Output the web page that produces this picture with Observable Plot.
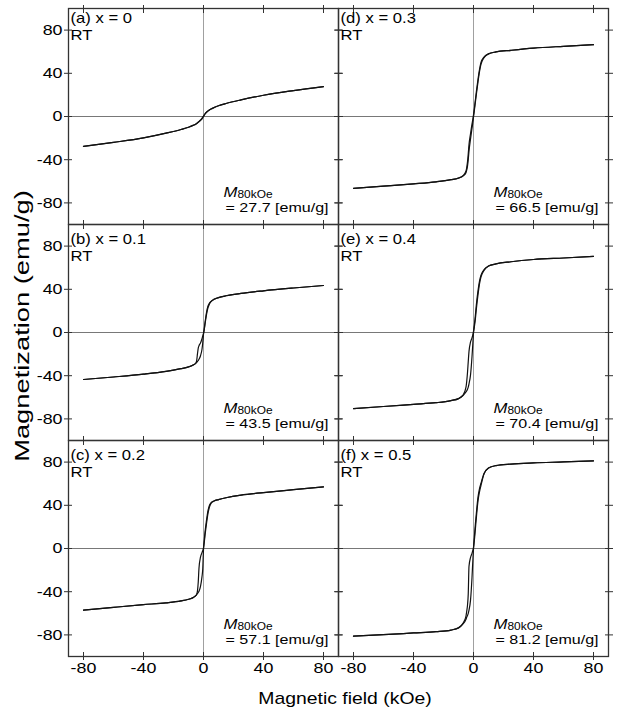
<!DOCTYPE html>
<html>
<head>
<meta charset="utf-8">
<script src="https://cdn.jsdelivr.net/npm/d3@7"></script>
<script src="https://cdn.jsdelivr.net/npm/@observablehq/plot@0.6"></script>
<style>
  html, body { margin: 0; padding: 0; background: #fff; }
  #wrap { position: relative; width: 619px; height: 715px; font-family: "Liberation Sans", Arial, Helvetica, sans-serif; color: #000; }
  #wrap svg { display: block; }
  .title { position: absolute; white-space: nowrap; line-height: 1; font-weight: normal; }
  #xtitle { left: 345px; top: 690px; font-size: 17px; transform: translateX(-50%) scaleX(1.14); }
  #ytitle { left: 21px; top: 326px; font-size: 21px; transform: translate(-50%, -50%) rotate(-90deg) scaleX(1.3); }
</style>
</head>
<body>
<div id="wrap"></div>
<script>
// ---- data ----
const field = [-80, -60, -40, -25, -15, -10, -7, -5, -4.5, -4, -3.5, -3, -2, -1, -0.5, 0, 0.5, 1, 2, 3, 4, 5, 7, 10, 15, 25, 40, 60, 80];

const aDown = [-27.7, -24.0, -19.8, -15.4, -12.0, -9.9, -8.2, -6.9, -6.5, -6.0, -5.4, -4.8, -3.6, -2.1, -1.1, 0.0, 1.2, 2.3, 3.9, 5.1, 6.1, 6.9, 8.2, 9.9, 12.0, 15.4, 19.7, 24.0, 27.7];
const aUp   = [-27.7, -24.0, -19.8, -15.4, -12.0, -9.9, -8.2, -6.9, -6.2, -5.7, -5.1, -4.5, -3.2, -1.7, -0.6, 0.4, 1.5, 2.5, 4.1, 5.2, 6.2, 7.0, 8.3, 9.9, 12.0, 15.4, 19.7, 24.0, 27.7];

const bDown = [-43.5, -41.2, -38.6, -36.0, -33.5, -31.8, -30.2, -28.0, -25.5, -19.5, -14.5, -12.2, -9.8, -5.8, -3.2, -0.8, 3.5, 9.0, 18.5, 24.5, 27.3, 28.8, 30.7, 32.3, 34.0, 36.2, 38.6, 41.2, 43.5];
const bUp   = [-43.5, -41.2, -38.6, -36.0, -33.5, -31.8, -30.2, -28.3, -27.6, -26.8, -25.8, -24.8, -21.5, -15.5, -9.5, -1.5, 2.5, 7.5, 16.5, 23.0, 26.5, 28.5, 30.7, 32.3, 34.0, 36.2, 38.6, 41.2, 43.5];

const cDown = [-57.1, -54.5, -52.0, -50.3, -48.5, -47.0, -45.5, -43.5, -42.2, -39.0, -31.0, -18.0, -8.0, -3.8, -2.0, 0.5, 7.5, 15.0, 26.0, 35.0, 40.0, 42.3, 44.0, 45.3, 47.0, 49.5, 51.8, 54.5, 57.1];
const cUp   = [-57.1, -54.5, -52.0, -50.3, -48.5, -47.0, -45.5, -43.5, -42.6, -41.6, -40.7, -39.5, -35.0, -26.0, -19.0, -1.0, 5.5, 12.0, 23.0, 32.5, 38.5, 41.8, 44.0, 45.3, 47.0, 49.5, 51.8, 54.5, 57.1];

const dDown = [-66.5, -64.5, -62.4, -60.5, -58.5, -57.0, -55.2, -52.0, -49.5, -46.0, -40.0, -32.0, -21.0, -11.0, -6.0, -0.5, 5.0, 10.5, 21.5, 32.0, 41.5, 48.5, 54.5, 58.0, 59.8, 61.3, 63.3, 65.0, 66.5];
const dUp   = [-66.5, -64.5, -62.4, -60.5, -58.5, -57.0, -54.8, -50.5, -47.0, -42.0, -34.5, -26.0, -16.0, -7.0, -3.0, 1.5, 6.5, 12.5, 24.0, 34.5, 43.5, 50.0, 55.0, 58.0, 59.8, 61.3, 63.3, 65.0, 66.5];

const eDown = [-70.4, -68.5, -66.5, -65.0, -63.0, -61.2, -58.0, -50.5, -45.0, -37.0, -27.0, -17.5, -9.0, -5.0, -2.5, 1.0, 6.5, 12.5, 27.0, 38.5, 47.5, 53.0, 58.0, 61.5, 63.5, 65.5, 67.6, 69.0, 70.4];
const eUp   = [-70.4, -68.5, -66.5, -65.0, -63.0, -61.2, -58.3, -55.0, -54.0, -52.5, -50.5, -47.5, -39.5, -22.5, -11.5, -0.5, 4.5, 9.5, 23.0, 35.0, 45.0, 51.5, 57.5, 61.5, 63.5, 65.5, 67.6, 69.0, 70.4];

const fDown = [-81.2, -79.8, -78.2, -77.0, -75.5, -73.5, -69.3, -62.5, -58.0, -52.5, -42.0, -16.5, -8.5, -4.5, -2.0, 1.0, 9.5, 18.5, 34.0, 47.5, 55.5, 60.5, 69.5, 74.5, 76.8, 78.2, 79.3, 80.2, 81.2];
const fUp   = [-81.2, -79.8, -78.2, -77.0, -75.5, -73.5, -69.8, -65.5, -63.5, -62.0, -60.0, -57.0, -48.0, -27.0, -13.0, -0.5, 6.5, 14.0, 30.0, 44.0, 52.5, 58.5, 69.0, 74.5, 76.8, 78.2, 79.3, 80.2, 81.2];

const panelLabels = ["(a) x = 0", "(b) x = 0.1", "(c) x = 0.2", "(d) x = 0.3", "(e) x = 0.4", "(f) x = 0.5"];
const panelCol = [0, 0, 0, 1, 1, 1];
const panelRow = [0, 1, 2, 0, 1, 2];
const m80 = ["27.7", "43.5", "57.1", "66.5", "70.4", "81.2"];
const xTicks = [-80, -40, 0, 40, 80];
const yTicks = [-80, -40, 0, 40, 80];

// ---- build tables ----
const branches = [[aDown, aUp], [bDown, bUp], [cDown, cUp], [dDown, dUp], [eDown, eUp], [fDown, fUp]];
const panels = panelLabels.map((label, i) => ({label, col: panelCol[i], row: panelRow[i], m80: m80[i]}));
const curves = [];
branches.forEach(([dn, up], i) => {
  [["down", dn], ["up", up]].forEach(([b, arr]) => {
    field.forEach((h, j) => curves.push({H: h, M: arr[j], col: panelCol[i], row: panelRow[i], key: i + b}));
  });
});

const font = "'Liberation Sans', Arial, Helvetica, sans-serif";
const fmt = d => String(d);
const tickOpts = {facetAnchor: null, tickSize: 8, tickFormat: () => "", label: null, stroke: "#333"};

const chart = Plot.plot({
  width: 619,
  height: 715,
  marginLeft: 68,
  marginRight: 11,
  marginTop: 7,
  marginBottom: 58,
  style: {fontFamily: font, background: "#fff", color: "#000"},
  x: {domain: [-90, 90]},
  y: {domain: [-100, 100]},
  fx: {domain: [0, 1], padding: 0, axis: null},
  fy: {domain: [0, 1, 2], padding: 0, axis: null},
  marks: [
    Plot.ruleY([0], {stroke: "#555", strokeWidth: 0.8}),
    Plot.ruleX([0], {stroke: "#888", strokeWidth: 0.8}),
    Plot.line(curves, {x: "H", y: "M", z: "key", fx: "col", fy: "row", stroke: "#111", strokeWidth: 1.2, curve: "monotone-x"}),
    Plot.frame({stroke: "#333", strokeWidth: 1.3}),
    // crossing ticks on every side of every panel
    Plot.axisX(xTicks, {...tickOpts, anchor: "bottom", dy: -4}),
    Plot.axisX(xTicks, {...tickOpts, anchor: "top", dy: 4}),
    Plot.axisY(yTicks, {...tickOpts, anchor: "left", dx: 4}),
    Plot.axisY(yTicks, {...tickOpts, anchor: "right", dx: -4}),
    // tick labels on outer panels
    Plot.axisX(xTicks, {anchor: "bottom", tickSize: 0, tickPadding: 6, tickFormat: fmt, label: null, fontSize: 15}),
    Plot.axisY(yTicks, {anchor: "left", tickSize: 0, tickPadding: 6, tickFormat: fmt, label: null, fontSize: 15}),
    // panel annotations
    Plot.text(panels.filter(d => d.row === 0), {fx: "col", fy: "row", text: "label", frameAnchor: "top-left", textAnchor: "start", lineAnchor: "bottom", dx: 2, dy: 14.5, fontSize: 14}),
    Plot.text(panels.filter(d => d.row === 0), {fx: "col", fy: "row", text: () => "RT", frameAnchor: "top-left", textAnchor: "start", lineAnchor: "bottom", dx: 2, dy: 31, fontSize: 14}),
    Plot.text(panels.filter(d => d.row !== 0), {fx: "col", fy: "row", text: "label", frameAnchor: "top-left", textAnchor: "start", lineAnchor: "bottom", dx: 2, dy: 19.5, fontSize: 14}),
    Plot.text(panels.filter(d => d.row !== 0), {fx: "col", fy: "row", text: () => "RT", frameAnchor: "top-left", textAnchor: "start", lineAnchor: "bottom", dx: 2, dy: 36.5, fontSize: 14}),
    Plot.text(panels, {fx: "col", fy: "row", text: () => "M", frameAnchor: "bottom-right", textAnchor: "start", lineAnchor: "bottom", dx: -115, dy: -28, fontSize: 14, fontStyle: "italic"}),
    Plot.text(panels, {fx: "col", fy: "row", text: () => "80kOe", frameAnchor: "bottom-right", textAnchor: "start", lineAnchor: "bottom", dx: -101, dy: -27, fontSize: 10}),
    Plot.text(panels, {fx: "col", fy: "row", text: d => `= ${d.m80} [emu/g]`, frameAnchor: "bottom-right", textAnchor: "start", lineAnchor: "bottom", dx: -113, dy: -12.5, fontSize: 13.5})
  ]
});

// the reference's lettering is horizontally wide; stretch each label about its anchor
chart.querySelectorAll("text").forEach(t => {
  const tr = t.getAttribute("transform") || "";
  t.setAttribute("transform", (tr + " scale(1.19,1)").trim());
});

const wrap = document.getElementById("wrap");
wrap.appendChild(chart);
const xt = document.createElement("div");
xt.className = "title"; xt.id = "xtitle"; xt.textContent = "Magnetic field (kOe)";
const yt = document.createElement("div");
yt.className = "title"; yt.id = "ytitle"; yt.textContent = "Magnetization (emu/g)";
wrap.appendChild(xt);
wrap.appendChild(yt);
</script>
</body>
</html>
